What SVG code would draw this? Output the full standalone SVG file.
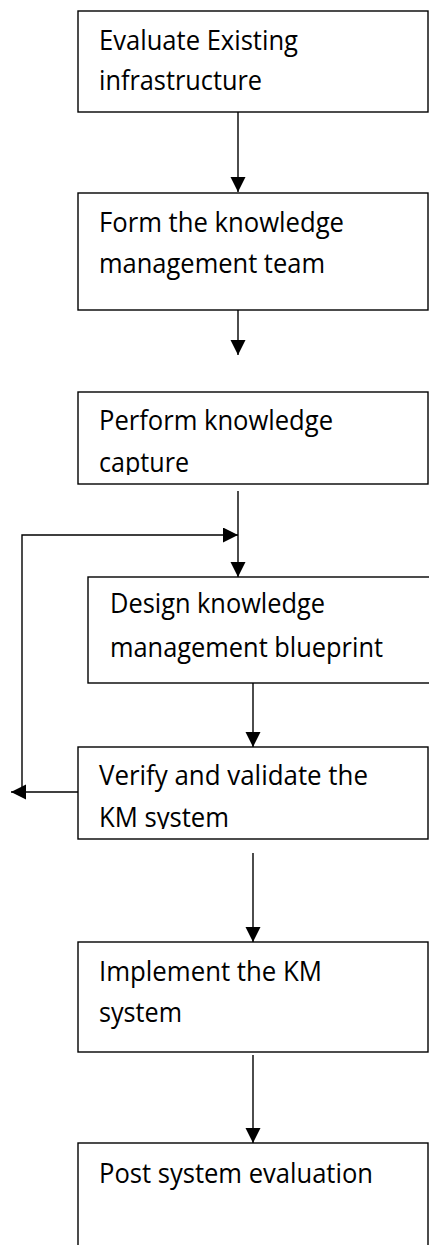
<svg xmlns="http://www.w3.org/2000/svg" width="429" height="1245" viewBox="0 0 429 1245">
<style>
.box{fill:#fff;stroke:#000;stroke-width:1.4}
.t{font-family:"Open Sans","Liberation Sans",sans-serif;font-size:27px;fill:#000}
.c{fill:none;stroke:#000;stroke-width:1.4}
</style>
<defs>
<marker id="ah" markerUnits="userSpaceOnUse" markerWidth="16" markerHeight="16" refX="15" refY="7.5" orient="auto" viewBox="0 0 16 16">
<path d="M0,0 L15,7.5 L0,15 z" fill="#000"/>
</marker>
<clipPath id="clip3"><rect x="0" y="380" width="429" height="95"/></clipPath>
<clipPath id="clip5"><rect x="0" y="740" width="429" height="89"/></clipPath>
</defs>
<rect width="429" height="1245" fill="#fff"/>
<g id="connectors">
<path class="c" d="M238,112 V192" marker-end="url(#ah)"/>
<path class="c" d="M238,310 V355" marker-end="url(#ah)"/>
<path class="c" d="M238,491 V577" marker-end="url(#ah)"/>
<path class="c" d="M22,792 V535 H238" marker-end="url(#ah)"/>
<path class="c" d="M78,792 H11" marker-end="url(#ah)"/>
<path class="c" d="M253,683 V747" marker-end="url(#ah)"/>
<path class="c" d="M253,853 V942" marker-end="url(#ah)"/>
<path class="c" d="M253,1055 V1143" marker-end="url(#ah)"/>
</g>
<g id="n1">
<rect class="box" x="78" y="11" width="350" height="101"/>
<text class="t" x="99" y="50" textLength="199" lengthAdjust="spacingAndGlyphs">Evaluate Existing</text>
<text class="t" x="99" y="90" textLength="163" lengthAdjust="spacingAndGlyphs">infrastructure</text>
</g>
<g id="n2">
<rect class="box" x="78" y="193" width="350" height="117"/>
<text class="t" x="99" y="232" textLength="245" lengthAdjust="spacingAndGlyphs">Form the knowledge</text>
<text class="t" x="99" y="273" textLength="226" lengthAdjust="spacingAndGlyphs">management team</text>
</g>
<g id="n3">
<rect class="box" x="78" y="392" width="350" height="92"/>
<g clip-path="url(#clip3)">
<text class="t" x="99" y="430" textLength="234" lengthAdjust="spacingAndGlyphs">Perform knowledge</text>
<text class="t" x="99" y="472" textLength="90" lengthAdjust="spacingAndGlyphs">capture</text>
</g>
</g>
<g id="n4">
<rect class="box" x="88" y="577" width="360" height="106"/>
<text class="t" x="110" y="613" textLength="215" lengthAdjust="spacingAndGlyphs">Design knowledge</text>
<text class="t" x="110" y="657" textLength="273" lengthAdjust="spacingAndGlyphs">management blueprint</text>
</g>
<g id="n5">
<rect class="box" x="78" y="747" width="350" height="92"/>
<g clip-path="url(#clip5)">
<text class="t" x="99" y="785" textLength="269" lengthAdjust="spacingAndGlyphs">Verify and validate the</text>
<text class="t" x="99" y="827" textLength="130" lengthAdjust="spacingAndGlyphs">KM system</text>
</g>
</g>
<g id="n6">
<rect class="box" x="78" y="942" width="350" height="110"/>
<text class="t" x="99" y="981" textLength="223" lengthAdjust="spacingAndGlyphs">Implement the KM</text>
<text class="t" x="99" y="1022" textLength="83" lengthAdjust="spacingAndGlyphs">system</text>
</g>
<g id="n7">
<rect class="box" x="78" y="1143" width="350" height="130"/>
<text class="t" x="99" y="1183" textLength="274" lengthAdjust="spacingAndGlyphs">Post system evaluation</text>
</g>
</svg>
